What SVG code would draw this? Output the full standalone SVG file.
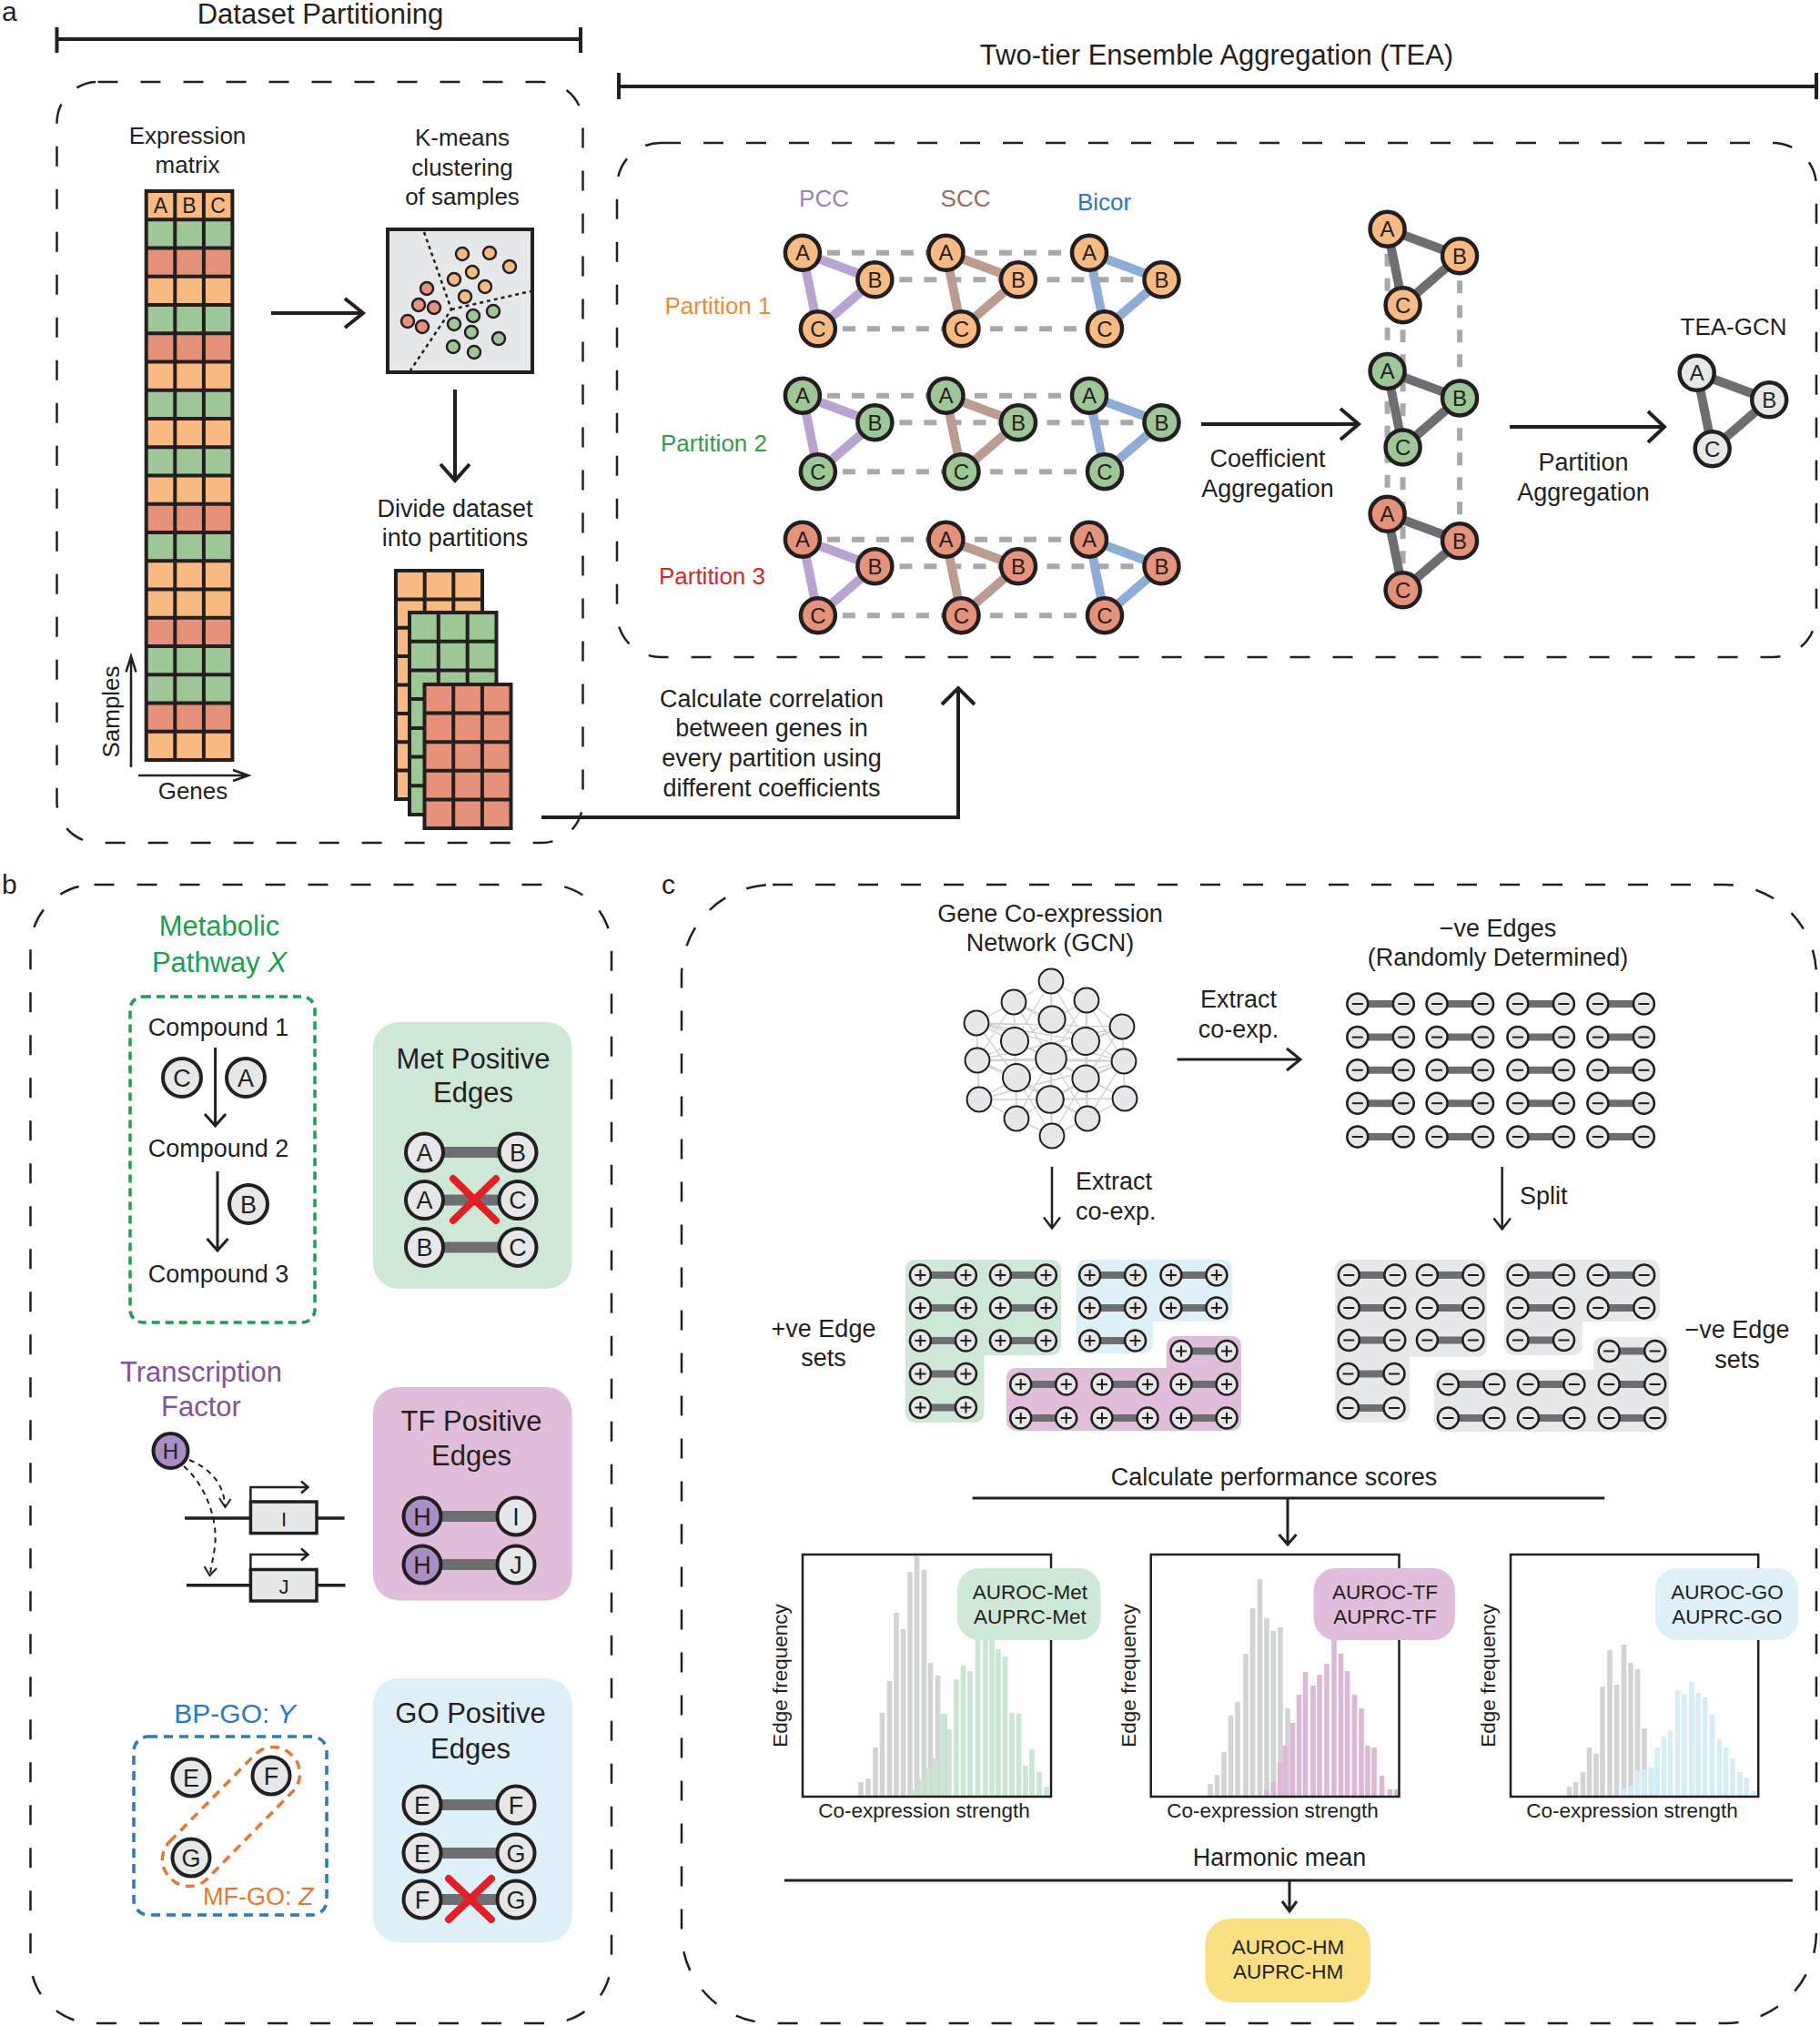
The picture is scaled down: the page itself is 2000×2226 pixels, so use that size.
<svg xmlns="http://www.w3.org/2000/svg" width="2000" height="2226" viewBox="0 0 2000 2226">
<style>
text{font-family:"Liberation Sans",Arial,Helvetica,sans-serif;fill:#231F20}
.m{text-anchor:middle}
.f27{font-size:27px}
.f26{font-size:26px}
.f31{font-size:31px}
.dbox{fill:none;stroke:#231F20;stroke-width:2.5;stroke-dasharray:22 25}
.ar{fill:none;stroke:#231F20;stroke-width:4}
.ar3{fill:none;stroke:#231F20;stroke-width:2.5}
.grid{fill:none;stroke:#231F20;stroke-width:4}
.kd{stroke:#231F20;stroke-width:2.5}
.nl{font-size:24px;text-anchor:middle}
.ln{fill:#E6E7E8;stroke:#231F20;stroke-width:4}
.lt{font-size:27px;text-anchor:middle}
.ed{stroke:#6D6E71;stroke-width:12}
.xr{stroke:#E31E24;stroke-width:8;stroke-linecap:round}
.sn{fill:#E6E7E8;stroke:#231F20;stroke-width:2.5}
.gdash{fill:none;stroke:#A7A9AC;stroke-width:6;stroke-dasharray:14 13}
.cht{fill:none;stroke:#231F20;stroke-width:2.5}
.lab{font-size:22.5px;text-anchor:middle}
.bar{fill:none;stroke-width:5.6}
.gc{fill:#E6E7E8;stroke:#231F20;stroke-width:2}
</style>
<defs>
<g id="triE"><path d="M0 0L79.5 29.5L17 83.5Z" fill="none" stroke-width="10" stroke-linejoin="round"/></g>
<g id="triN">
<circle cx="0" cy="0" r="19" stroke="#231F20" stroke-width="4.5"/>
<circle cx="79.5" cy="29.5" r="19" stroke="#231F20" stroke-width="4.5"/>
<circle cx="17" cy="83.5" r="19" stroke="#231F20" stroke-width="4.5"/>
<text x="0" y="8.5" class="nl">A</text>
<text x="79.5" y="38" class="nl">B</text>
<text x="17" y="92" class="nl">C</text>
</g>
<g id="pn"><circle r="11.5" class="sn"/><path d="M-6 0H6M0-6V6" stroke="#231F20" stroke-width="2"/></g>
<g id="mn"><circle r="11.5" class="sn"/><path d="M-6 0H6" stroke="#231F20" stroke-width="2"/></g>
<g id="pp"><path d="M0 0H50" stroke="#6D6E71" stroke-width="8"/><use href="#pn"/><use href="#pn" x="50"/></g>
<g id="mp"><path d="M0 0H50.5" stroke="#6D6E71" stroke-width="8"/><use href="#mn"/><use href="#mn" x="50.5"/></g>
</defs>
<rect width="2000" height="2226" fill="#FFFFFF"/>

<!-- ================= Panel a ================= -->
<g id="panel-a">
<text x="2" y="23" font-size="30">a</text>
<text x="352" y="26" class="m f31">Dataset Partitioning</text>
<path d="M62.5 43H638M62.5 30V58M638 30V58" class="ar"/>
<text x="1337" y="71" class="m f31">Two-tier Ensemble Aggregation (TEA)</text>
<path d="M680 95H1996M680 80V109M1996 80V109" class="ar"/>
<rect x="62.5" y="90" width="578" height="836" rx="45" class="dbox"/>

<g id="expression-matrix">
<text x="206" y="158" class="m f26">Expression</text>
<text x="206" y="190" class="m f26">matrix</text>
<g stroke="none">
<rect x="160.7" y="210" width="94.7" height="31.25" fill="#F8BA80"/>
<rect x="160.7" y="241.25" width="94.7" height="31.25" fill="#9DC796"/>
<rect x="160.7" y="272.5" width="94.7" height="31.25" fill="#E6917A"/>
<rect x="160.7" y="303.75" width="94.7" height="31.25" fill="#F8BA80"/>
<rect x="160.7" y="335" width="94.7" height="31.25" fill="#9DC796"/>
<rect x="160.7" y="366.25" width="94.7" height="31.25" fill="#E6917A"/>
<rect x="160.7" y="397.5" width="94.7" height="31.25" fill="#F8BA80"/>
<rect x="160.7" y="428.75" width="94.7" height="31.25" fill="#9DC796"/>
<rect x="160.7" y="460" width="94.7" height="31.25" fill="#F8BA80"/>
<rect x="160.7" y="491.25" width="94.7" height="31.25" fill="#9DC796"/>
<rect x="160.7" y="522.5" width="94.7" height="31.25" fill="#F8BA80"/>
<rect x="160.7" y="553.75" width="94.7" height="31.25" fill="#E6917A"/>
<rect x="160.7" y="585" width="94.7" height="31.25" fill="#9DC796"/>
<rect x="160.7" y="616.25" width="94.7" height="31.25" fill="#F8BA80"/>
<rect x="160.7" y="647.5" width="94.7" height="31.25" fill="#F8BA80"/>
<rect x="160.7" y="678.75" width="94.7" height="31.25" fill="#E6917A"/>
<rect x="160.7" y="710" width="94.7" height="31.25" fill="#9DC796"/>
<rect x="160.7" y="741.25" width="94.7" height="31.25" fill="#9DC796"/>
<rect x="160.7" y="772.5" width="94.7" height="31.25" fill="#E6917A"/>
<rect x="160.7" y="803.75" width="94.7" height="31.25" fill="#F8BA80"/>
</g>
<path class="grid" d="M160.7 210H255.4V835H160.7ZM192.3 210V835M223.9 210V835M160.7 241.25H255.4M160.7 272.5H255.4M160.7 303.75H255.4M160.7 335H255.4M160.7 366.25H255.4M160.7 397.5H255.4M160.7 428.75H255.4M160.7 460H255.4M160.7 491.25H255.4M160.7 522.5H255.4M160.7 553.75H255.4M160.7 585H255.4M160.7 616.25H255.4M160.7 647.5H255.4M160.7 678.75H255.4M160.7 710H255.4M160.7 741.25H255.4M160.7 772.5H255.4M160.7 803.75H255.4"/>
<text x="176.5" y="234" class="m" font-size="23">A</text>
<text x="208" y="234" class="m" font-size="23">B</text>
<text x="239.6" y="234" class="m" font-size="23">C</text>
<path d="M144 843V721M138.5 738.5L144 721L149.5 738.5" class="ar3"/>
<text transform="translate(131,782) rotate(-90)" class="m f26">Samples</text>
<path d="M152 852H273M256 846L273 852L256 858" class="ar3"/>
<text x="212" y="878" class="m f26">Genes</text>
</g>

<g id="kmeans">
<text x="508" y="160" class="m f26">K-means</text>
<text x="508" y="193" class="m f26">clustering</text>
<text x="508" y="225" class="m f26">of samples</text>
<rect x="426" y="252" width="159" height="157" fill="#E6E7E8" stroke="#231F20" stroke-width="4"/>
<path d="M466 255L496 340L451 407M496 340L583 320" fill="none" stroke="#231F20" stroke-width="2.5" stroke-dasharray="4 4"/>
<g class="kd" fill="#F8BA80">
<circle cx="508" cy="279" r="7"/><circle cx="538" cy="278" r="7"/><circle cx="560" cy="293" r="7"/><circle cx="519" cy="299" r="7"/><circle cx="499" cy="307" r="7"/><circle cx="533" cy="315" r="7"/><circle cx="511" cy="326" r="7"/>
</g>
<g class="kd" fill="#E6917A">
<circle cx="469" cy="317" r="7"/><circle cx="460" cy="335" r="7"/><circle cx="477" cy="338" r="7"/><circle cx="448" cy="353" r="7"/><circle cx="464" cy="359" r="7"/>
</g>
<g class="kd" fill="#9DC796">
<circle cx="520" cy="347" r="7"/><circle cx="542" cy="342" r="7"/><circle cx="499" cy="356" r="7"/><circle cx="518" cy="365" r="7"/><circle cx="548" cy="372" r="7"/><circle cx="498" cy="381" r="7"/><circle cx="521" cy="387" r="7"/>
</g>
</g>

<g id="partitions">
<text x="500" y="568" class="m f27">Divide dataset</text>
<text x="500" y="600" class="m f27">into partitions</text>
<rect x="435" y="627" width="95" height="251" fill="#F8BA80"/>
<path class="grid" d="M435 627H530V878H435ZM466.7 627V878M498.3 627V878M435 658.4H530M435 689.75H530M435 721.1H530M435 752.5H530M435 783.9H530M435 815.25H530M435 846.6H530"/>
<rect x="450" y="673" width="95.5" height="222" fill="#9DC796"/>
<path class="grid" d="M450 673H545.5V895H450ZM481.8 673V895M513.7 673V895M450 704.7H545.5M450 736.4H545.5M450 768.1H545.5M450 799.9H545.5M450 831.6H545.5M450 863.3H545.5"/>
<rect x="466.5" y="752" width="95" height="158" fill="#E6917A"/>
<path class="grid" d="M466.5 752H561.5V910H466.5ZM498.2 752V910M529.9 752V910M466.5 783.6H561.5M466.5 815.2H561.5M466.5 846.8H561.5M466.5 878.4H561.5"/>
</g>
</g>

<!-- ================= TEA ================= -->
<g id="tea">
<rect x="678" y="157" width="1318" height="565" rx="48" class="dbox"/>
<text x="905.5" y="227" class="m f26" style="fill:#9D7FC1">PCC</text>
<text x="1061" y="227" class="m f26" style="fill:#A0695A">SCC</text>
<text x="1213.5" y="231" class="m f26" style="fill:#2878BD">Bicor</text>
<text x="847.5" y="345" text-anchor="end" class="f26" style="fill:#F08A2E">Partition 1</text>
<text x="843" y="496" text-anchor="end" class="f26" style="fill:#2EA04A">Partition 2</text>
<text x="841" y="642" text-anchor="end" class="f26" style="fill:#D62728">Partition 3</text>

<g id="tea-dashes">
<path class="gdash" d="M882 277.8H1197M961.4 307.3H1276.5M898.9 361.3H1214M882 434.7H1197M961.4 464.2H1276.5M898.9 518.2H1214M882 592.7H1197M961.4 622.2H1276.5M898.9 676.2H1214"/>
<path class="gdash" d="M1524.6 251.7V564.8M1541.6 335.2V648.3M1604.1 281.2V594.3"/>
</g>

<g id="p1-pcc" transform="translate(881.9,277.8)"><use href="#triE" stroke="#B9A3D3"/><use href="#triN" fill="#F8BA80"/></g>
<g id="p1-scc" transform="translate(1039.5,277.8)"><use href="#triE" stroke="#BC9C90"/><use href="#triN" fill="#F8BA80"/></g>
<g id="p1-bicor" transform="translate(1197,277.8)"><use href="#triE" stroke="#8EADD6"/><use href="#triN" fill="#F8BA80"/></g>
<g id="p2-pcc" transform="translate(881.9,434.7)"><use href="#triE" stroke="#B9A3D3"/><use href="#triN" fill="#9DC796"/></g>
<g id="p2-scc" transform="translate(1039.5,434.7)"><use href="#triE" stroke="#BC9C90"/><use href="#triN" fill="#9DC796"/></g>
<g id="p2-bicor" transform="translate(1197,434.7)"><use href="#triE" stroke="#8EADD6"/><use href="#triN" fill="#9DC796"/></g>
<g id="p3-pcc" transform="translate(881.9,592.7)"><use href="#triE" stroke="#B9A3D3"/><use href="#triN" fill="#E6917A"/></g>
<g id="p3-scc" transform="translate(1039.5,592.7)"><use href="#triE" stroke="#BC9C90"/><use href="#triN" fill="#E6917A"/></g>
<g id="p3-bicor" transform="translate(1197,592.7)"><use href="#triE" stroke="#8EADD6"/><use href="#triN" fill="#E6917A"/></g>

<g id="agg-1" transform="translate(1524.6,251.7)"><use href="#triE" stroke="#6D6E71"/><use href="#triN" fill="#F8BA80"/></g>
<g id="agg-2" transform="translate(1524.6,407.9)"><use href="#triE" stroke="#6D6E71"/><use href="#triN" fill="#9DC796"/></g>
<g id="agg-3" transform="translate(1524.6,564.8)"><use href="#triE" stroke="#6D6E71"/><use href="#triN" fill="#E6917A"/></g>

<text x="1905" y="368" class="m f26">TEA-GCN</text>
<g id="tea-gcn" transform="translate(1864.7,409.8)"><use href="#triE" stroke="#6D6E71"/><use href="#triN" fill="#E6E7E8"/></g>

<text x="1393" y="513" class="m f27">Coefficient</text>
<text x="1393" y="546" class="m f27">Aggregation</text>
<text x="1740" y="517" class="m f27">Partition</text>
<text x="1740" y="550" class="m f27">Aggregation</text>
</g>

<g id="connectors-a">
<path d="M298 344H398M379 328L399 344L379 360" class="ar"/>
<path d="M500 428V527M484 510L500 528L516 510" class="ar"/>
<path d="M595 898H1053V757M1035 774L1053 756L1071 774" class="ar"/>
<path d="M1320 466H1492M1473 449L1493 466L1473 483" class="ar"/>
<path d="M1659 469H1828M1811 452L1829 469L1811 486" class="ar"/>
</g>
<g id="calc-label">
<text x="848" y="777" class="m f27">Calculate correlation</text>
<text x="848" y="809" class="m f27">between genes in</text>
<text x="848" y="842" class="m f27">every partition using</text>
<text x="848" y="875" class="m f27">different coefficients</text>
</g>

<!-- ================= Panel b ================= -->
<g id="panel-b">
<text x="2" y="982" font-size="30">b</text>
<rect x="33.5" y="972" width="638.5" height="1251" rx="70" class="dbox"/>

<g id="metabolic">
<text x="241" y="1028" class="m f31" style="fill:#1BA04B">Metabolic</text>
<text x="241" y="1068" class="m f31" style="fill:#1BA04B">Pathway <tspan font-style="italic" style="fill:#1BA04B">X</tspan></text>
<rect x="143" y="1095" width="203" height="358" rx="14" fill="none" stroke="#1BA04B" stroke-width="3.5" stroke-dasharray="9 6"/>
<text x="240" y="1138" class="m f27">Compound 1</text>
<text x="240" y="1271" class="m f27">Compound 2</text>
<text x="240" y="1409" class="m f27">Compound 3</text>
<path d="M236.6 1151V1236M225 1224L236.6 1237L248 1224" class="ar3" style="stroke-width:3"/>
<path d="M239 1287V1373M227.5 1361L239 1374L250.5 1361" class="ar3" style="stroke-width:3"/>
<circle cx="200" cy="1184" r="21" class="ln"/><text x="200" y="1193.5" class="lt">C</text>
<circle cx="270" cy="1184" r="21" class="ln"/><text x="270" y="1193.5" class="lt">A</text>
<circle cx="273" cy="1323" r="21" class="ln"/><text x="273" y="1332.5" class="lt">B</text>
</g>

<g id="met-positive">
<rect x="410" y="1123" width="218.6" height="293" rx="28" fill="#CDE8D7"/>
<text x="520" y="1173.5" class="m f31">Met Positive</text>
<text x="520" y="1211" class="m f31">Edges</text>
<path d="M466.5 1266H569M466.5 1318.6H569M466.5 1370.4H569" class="ed"/>
<circle cx="466.5" cy="1266" r="20.5" class="ln"/><text x="466.5" y="1275.5" class="lt">A</text>
<circle cx="569" cy="1266" r="20.5" class="ln"/><text x="569" y="1275.5" class="lt">B</text>
<circle cx="466.5" cy="1318.6" r="20.5" class="ln"/><text x="466.5" y="1328" class="lt">A</text>
<circle cx="569" cy="1318.6" r="20.5" class="ln"/><text x="569" y="1328" class="lt">C</text>
<circle cx="466.5" cy="1370.4" r="20.5" class="ln"/><text x="466.5" y="1380" class="lt">B</text>
<circle cx="569" cy="1370.4" r="20.5" class="ln"/><text x="569" y="1380" class="lt">C</text>
<path d="M498 1295L545 1341M545 1295L498 1341" class="xr"/>
</g>

<g id="transcription">
<text x="221" y="1517.6" class="m f31" style="fill:#8450A0">Transcription</text>
<text x="221" y="1556" class="m f31" style="fill:#8450A0">Factor</text>
<path d="M208 1604C228 1612 246 1628 247 1654" fill="none" stroke="#231F20" stroke-width="2" stroke-dasharray="6 5"/>
<path d="M241 1646L247.5 1656L253.5 1647" fill="none" stroke="#231F20" stroke-width="2"/>
<path d="M202 1611C226 1632 240 1670 236 1700C234 1714 232 1721 231 1729" fill="none" stroke="#231F20" stroke-width="2" stroke-dasharray="6 5"/>
<path d="M224.5 1721L230.5 1731L238 1723" fill="none" stroke="#231F20" stroke-width="2"/>
<circle cx="187.5" cy="1594" r="19" fill="#A98DC6" stroke="#231F20" stroke-width="4"/><text x="187.5" y="1603" class="nl">H</text>
<path d="M203 1668H378.6M205 1741.7H379.5" stroke="#231F20" stroke-width="3.5"/>
<rect x="275.4" y="1650" width="72.6" height="34.6" fill="#E6E7E8" stroke="#231F20" stroke-width="3.5"/>
<rect x="275.4" y="1724.5" width="72.6" height="34.5" fill="#E6E7E8" stroke="#231F20" stroke-width="3.5"/>
<text x="312" y="1677" class="m" font-size="22">I</text>
<text x="312" y="1751" class="m" font-size="22">J</text>
<path d="M275.4 1650V1634H338M331 1627.5L338.5 1634L331 1640.5M275.4 1724.5V1708H338M331 1701.5L338.5 1708L331 1714.5" fill="none" stroke="#231F20" stroke-width="2.5"/>
</g>

<g id="tf-positive">
<rect x="410" y="1524" width="218.6" height="234.5" rx="28" fill="#E0BEDB"/>
<text x="518" y="1571.5" class="m f31">TF Positive</text>
<text x="518" y="1610" class="m f31">Edges</text>
<path d="M464 1666H567M464 1719H567" class="ed"/>
<circle cx="464" cy="1666" r="20.5" fill="#A98DC6" stroke="#231F20" stroke-width="4"/><text x="464" y="1675.5" class="lt">H</text>
<circle cx="567" cy="1666" r="20.5" class="ln"/><text x="567" y="1675.5" class="lt">I</text>
<circle cx="464" cy="1719" r="20.5" fill="#A98DC6" stroke="#231F20" stroke-width="4"/><text x="464" y="1728.5" class="lt">H</text>
<circle cx="567" cy="1719" r="20.5" class="ln"/><text x="567" y="1728.5" class="lt">J</text>
</g>

<g id="go">
<text x="258" y="1893" class="m" font-size="30" style="fill:#2B79BF">BP-GO: <tspan font-style="italic" style="fill:#2B79BF">Y</tspan></text>
<rect x="147" y="1908" width="212" height="196" rx="16" fill="none" stroke="#2B79BF" stroke-width="3.5" stroke-dasharray="10 7"/>
<rect x="-95" y="-29" width="190" height="58" rx="28" transform="translate(254,1996) rotate(-45.6)" fill="none" stroke="#E8772E" stroke-width="3.5" stroke-dasharray="10 7"/>
<circle cx="210" cy="1953" r="20.5" class="ln"/><text x="210" y="1962.5" class="lt">E</text>
<circle cx="298" cy="1951" r="20.5" class="ln"/><text x="298" y="1960.5" class="lt">F</text>
<circle cx="210" cy="2041" r="20.5" class="ln"/><text x="210" y="2050.5" class="lt">G</text>
<text x="223" y="2093" font-size="27" style="fill:#E8772E">MF-GO: <tspan font-style="italic" style="fill:#E8772E">Z</tspan></text>
</g>

<g id="go-positive">
<rect x="410" y="1844" width="218.6" height="290" rx="28" fill="#DDF0F8"/>
<text x="517" y="1893" class="m f31">GO Positive</text>
<text x="517" y="1932" class="m f31">Edges</text>
<path d="M464 1983H567M464 2036H567M464 2087H567" class="ed"/>
<circle cx="464" cy="1983" r="20.5" class="ln"/><text x="464" y="1992.5" class="lt">E</text>
<circle cx="567" cy="1983" r="20.5" class="ln"/><text x="567" y="1992.5" class="lt">F</text>
<circle cx="464" cy="2036" r="20.5" class="ln"/><text x="464" y="2045.5" class="lt">E</text>
<circle cx="567" cy="2036" r="20.5" class="ln"/><text x="567" y="2045.5" class="lt">G</text>
<circle cx="464" cy="2087" r="20.5" class="ln"/><text x="464" y="2096.5" class="lt">F</text>
<circle cx="567" cy="2087" r="20.5" class="ln"/><text x="567" y="2096.5" class="lt">G</text>
<path d="M493 2064L540 2109M540 2064L493 2109" class="xr"/>
</g>
</g>

<!-- ================= Panel c ================= -->
<g id="panel-c">
<text x="727" y="982" font-size="30">c</text>
<rect x="749" y="972" width="1247" height="1251" rx="100" class="dbox"/>

<g id="gcn">
<text x="1154" y="1013" class="m f27">Gene Co-expression</text>
<text x="1154" y="1045" class="m f27">Network (GCN)</text>
<path fill="none" stroke="#D2D2D2" stroke-width="1.4" d="M1155 1078L1194 1099L1233 1128L1235 1166L1236 1207L1195 1229L1156 1248L1117 1229L1076 1208L1074 1165L1073 1124L1114 1101ZM1155 1078L1156 1120M1155 1078L1115 1144M1155 1078L1193 1144M1155 1078L1155 1163M1114 1101L1156 1120M1114 1101L1115 1144M1114 1101L1193 1144M1114 1101L1155 1163M1114 1101L1117 1184M1194 1099L1156 1120M1194 1099L1115 1144M1194 1099L1193 1144M1194 1099L1155 1163M1194 1099L1193 1185M1073 1124L1115 1144M1073 1124L1155 1163M1073 1124L1117 1184M1073 1124L1193 1144M1073 1124L1076 1208M1073 1124L1233 1128M1233 1128L1193 1144M1233 1128L1155 1163M1233 1128L1193 1185M1233 1128L1236 1207M1074 1165L1115 1144M1074 1165L1117 1184M1074 1165L1155 1163M1074 1165L1235 1166M1074 1165L1154 1208M1235 1166L1193 1144M1235 1166L1193 1185M1235 1166L1155 1163M1235 1166L1154 1208M1076 1208L1117 1184M1076 1208L1154 1208M1076 1208L1155 1163M1076 1208L1236 1207M1236 1207L1193 1185M1236 1207L1154 1208M1236 1207L1155 1163M1117 1229L1117 1184M1117 1229L1154 1208M1117 1229L1193 1185M1117 1229L1155 1163M1195 1229L1193 1185M1195 1229L1154 1208M1195 1229L1117 1184M1195 1229L1155 1163M1156 1248L1154 1208M1156 1248L1117 1184M1156 1248L1193 1185M1156 1248L1155 1163M1156 1120L1115 1144M1156 1120L1193 1144M1156 1120L1155 1163M1115 1144L1117 1184M1193 1144L1193 1185M1117 1184L1154 1208M1193 1185L1154 1208M1115 1144L1155 1163M1193 1144L1155 1163M1117 1184L1155 1163M1193 1185L1155 1163M1154 1208L1155 1163M1114 1101L1074 1165M1194 1099L1235 1166M1195 1229L1235 1166M1155 1078L1156 1248M1073 1124L1235 1166M1074 1165L1233 1128M1076 1208L1235 1166M1114 1101L1117 1229M1194 1099L1195 1229M1115 1144L1193 1185M1193 1144L1117 1184"/>
<circle cx="1155" cy="1078" r="13.4" class="gc"/>
<circle cx="1114" cy="1101" r="13.4" class="gc"/>
<circle cx="1194" cy="1099" r="13.4" class="gc"/>
<circle cx="1073" cy="1124" r="13.4" class="gc"/>
<circle cx="1156" cy="1120" r="14.6" class="gc"/>
<circle cx="1233" cy="1128" r="13.4" class="gc"/>
<circle cx="1115" cy="1144" r="15" class="gc"/>
<circle cx="1193" cy="1144" r="15" class="gc"/>
<circle cx="1074" cy="1165" r="13.4" class="gc"/>
<circle cx="1155" cy="1163" r="16.8" class="gc"/>
<circle cx="1235" cy="1166" r="13.4" class="gc"/>
<circle cx="1117" cy="1184" r="15" class="gc"/>
<circle cx="1193" cy="1185" r="14.6" class="gc"/>
<circle cx="1076" cy="1208" r="13.4" class="gc"/>
<circle cx="1154" cy="1208" r="14.8" class="gc"/>
<circle cx="1236" cy="1207" r="13.4" class="gc"/>
<circle cx="1117" cy="1229" r="13.4" class="gc"/>
<circle cx="1195" cy="1229" r="13.4" class="gc"/>
<circle cx="1156" cy="1248" r="13.4" class="gc"/>
</g>

<g id="neg-edges">
<text x="1646" y="1029" class="m f27">−ve Edges</text>
<text x="1646" y="1061" class="m f27">(Randomly Determined)</text>
<use href="#mp" x="1491.8" y="1103"/><use href="#mp" x="1579.1" y="1103"/><use href="#mp" x="1667.9" y="1103"/><use href="#mp" x="1755.9" y="1103"/>
<use href="#mp" x="1491.8" y="1139.6"/><use href="#mp" x="1579.1" y="1139.6"/><use href="#mp" x="1667.9" y="1139.6"/><use href="#mp" x="1755.9" y="1139.6"/>
<use href="#mp" x="1491.8" y="1175.8"/><use href="#mp" x="1579.1" y="1175.8"/><use href="#mp" x="1667.9" y="1175.8"/><use href="#mp" x="1755.9" y="1175.8"/>
<use href="#mp" x="1491.8" y="1212.2"/><use href="#mp" x="1579.1" y="1212.2"/><use href="#mp" x="1667.9" y="1212.2"/><use href="#mp" x="1755.9" y="1212.2"/>
<use href="#mp" x="1491.8" y="1249"/><use href="#mp" x="1579.1" y="1249"/><use href="#mp" x="1667.9" y="1249"/><use href="#mp" x="1755.9" y="1249"/>
</g>

<g id="pos-sets">
<text x="905" y="1469" class="m f27">+ve Edge</text>
<text x="905" y="1501" class="m f27">sets</text>
<path d="M1005 1394H1156V1479H1071.5V1553H1005Z" fill="#CDE8D7" stroke="#CDE8D7" stroke-width="20" stroke-linejoin="round"/>
<path d="M1193 1394H1344V1442H1257V1477H1193Z" fill="#DDF0F8" stroke="#DDF0F8" stroke-width="20" stroke-linejoin="round"/>
<path d="M1292 1478H1354V1562H1116V1513H1292Z" fill="#E0BEDB" stroke="#E0BEDB" stroke-width="20" stroke-linejoin="round"/>
<use href="#pp" x="1011.4" y="1401"/><use href="#pp" x="1099.4" y="1401"/>
<use href="#pp" x="1011.4" y="1437"/><use href="#pp" x="1099.4" y="1437"/>
<use href="#pp" x="1011.4" y="1473"/><use href="#pp" x="1099.4" y="1473"/>
<use href="#pp" x="1011.4" y="1509.5"/><use href="#pp" x="1011.4" y="1546.5"/>
<use href="#pp" x="1197.6" y="1401"/><use href="#pp" x="1286.9" y="1401"/>
<use href="#pp" x="1197.6" y="1437"/><use href="#pp" x="1286.9" y="1437"/>
<use href="#pp" x="1197.6" y="1473"/>
<use href="#pp" x="1298" y="1484.5"/>
<use href="#pp" x="1121.7" y="1521"/><use href="#pp" x="1211" y="1521"/><use href="#pp" x="1298" y="1521"/>
<use href="#pp" x="1121.7" y="1558"/><use href="#pp" x="1211" y="1558"/><use href="#pp" x="1298" y="1558"/>
</g>

<g id="neg-sets">
<text x="1909" y="1470" class="m f27">−ve Edge</text>
<text x="1909" y="1503" class="m f27">sets</text>
<path d="M1477 1394H1624V1481H1539V1553H1477Z" fill="#E6E7E8" stroke="#E6E7E8" stroke-width="20" stroke-linejoin="round"/>
<path d="M1663 1394H1814V1442H1729V1479H1663Z" fill="#E6E7E8" stroke="#E6E7E8" stroke-width="20" stroke-linejoin="round"/>
<path d="M1761 1479H1824V1563H1586V1515H1761Z" fill="#E6E7E8" stroke="#E6E7E8" stroke-width="20" stroke-linejoin="round"/>
<use href="#mp" x="1482.3" y="1401"/><use href="#mp" x="1568.4" y="1401"/>
<use href="#mp" x="1482.3" y="1437"/><use href="#mp" x="1568.4" y="1437"/>
<use href="#mp" x="1482.3" y="1472.5"/><use href="#mp" x="1568.4" y="1472.5"/>
<use href="#mp" x="1481.5" y="1509.5"/><use href="#mp" x="1481.5" y="1547"/>
<use href="#mp" x="1668" y="1401"/><use href="#mp" x="1756.2" y="1401"/>
<use href="#mp" x="1668" y="1437"/><use href="#mp" x="1756.2" y="1437"/>
<use href="#mp" x="1668" y="1472.5"/>
<use href="#mp" x="1768.2" y="1484.5"/>
<use href="#mp" x="1591.4" y="1521"/><use href="#mp" x="1679.4" y="1521"/><use href="#mp" x="1768.2" y="1521"/>
<use href="#mp" x="1591.4" y="1558"/><use href="#mp" x="1679.4" y="1558"/><use href="#mp" x="1768.2" y="1558"/>
</g>

<g id="charts">
<path class="bar" stroke="#D1D3D4" d="M946 1973V1958M954 1973V1954M962 1973V1920M969.5 1973V1882M977.5 1973V1847M985 1973V1772M992.5 1973V1790M1000 1973V1727M1007.5 1973V1710M1015.5 1973V1725M1022.5 1973V1827M1030.5 1973V1841M1038 1973V1883"/>
<path class="bar" stroke="#C8E6D0" d="M1005 1973V1967M1012.5 1973V1955M1020.5 1973V1943M1028 1973V1932M1036 1973V1883M1043 1973V1900M1051 1973V1845M1058.5 1973V1830M1066 1973V1836M1074.5 1973V1795M1083 1973V1790M1090 1973V1800M1097 1973V1812M1104.5 1973V1820M1112 1973V1882M1119.5 1973V1883M1127 1973V1940M1134 1973V1922M1142 1973V1947M1150 1973V1963"/>
<rect x="882" y="1708" width="273" height="266" class="cht"/>
<rect x="1052" y="1723" width="157.4" height="79" rx="24" fill="#CDE8D7"/>
<text x="1131.8" y="1757" class="lab">AUROC-Met</text>
<text x="1131.8" y="1783.5" class="lab">AUPRC-Met</text>
<text transform="translate(865,1841) rotate(-90)" class="lab">Edge frequency</text>
<text x="1015.5" y="1997" class="lab">Co-expression strength</text>

<path class="bar" stroke="#D1D3D4" d="M1330 1973V1960M1337.5 1973V1950M1345 1973V1925M1352.5 1973V1885M1360 1973V1870M1369 1973V1817M1376.5 1973V1767M1384.5 1973V1735M1392 1973V1778M1399.5 1973V1792M1407 1973V1788M1415 1973V1877"/>
<path class="bar" stroke="#DDB7D6" d="M1392 1973V1967M1399.5 1973V1958M1407 1973V1937M1412.5 1973V1918M1420.5 1973V1893M1427.5 1973V1862M1434.5 1973V1837M1443 1973V1852M1450 1973V1840M1458 1973V1828M1466 1973V1800M1473.5 1973V1817M1480.5 1973V1836M1488.5 1973V1862M1496 1973V1877M1503 1973V1918M1510 1973V1920M1518.5 1973V1951M1527.5 1973V1966M1535 1973V1966"/>
<rect x="1264.7" y="1708" width="272.8" height="266" class="cht"/>
<rect x="1443.7" y="1723" width="155.1" height="79" rx="24" fill="#E0BEDB"/>
<text x="1522" y="1757" class="lab">AUROC-TF</text>
<text x="1522" y="1783.5" class="lab">AUPRC-TF</text>
<text transform="translate(1248,1841) rotate(-90)" class="lab">Edge frequency</text>
<text x="1398.5" y="1997" class="lab">Co-expression strength</text>

<path class="bar" stroke="#D1D3D4" d="M1724.5 1973V1963M1731.5 1973V1958M1739.5 1973V1947M1746.5 1973V1920M1754 1973V1927M1761 1973V1853M1769 1973V1813M1776.5 1973V1851M1784.5 1973V1807M1792 1973V1827M1799.5 1973V1834M1807 1973V1899M1814.5 1973V1942"/>
<path class="bar" stroke="#D3ECF5" d="M1784.5 1973V1965M1792 1973V1962M1799.5 1973V1945M1807 1973V1944M1814.5 1973V1942M1821 1973V1920M1828.5 1973V1908M1835.5 1973V1901M1843.5 1973V1857M1851 1973V1862M1859 1973V1848M1866 1973V1860M1873.5 1973V1865M1881.5 1973V1884M1889.5 1973V1911M1896.5 1973V1920M1904 1973V1932M1912 1973V1947M1919 1973V1953M1927 1973V1968"/>
<rect x="1660" y="1708" width="272.2" height="266" class="cht"/>
<rect x="1819" y="1723" width="157.3" height="79" rx="24" fill="#DDF0F8"/>
<text x="1898" y="1757" class="lab">AUROC-GO</text>
<text x="1898" y="1783.5" class="lab">AUPRC-GO</text>
<text transform="translate(1643,1841) rotate(-90)" class="lab">Edge frequency</text>
<text x="1793.5" y="1997" class="lab">Co-expression strength</text>
</g>

<g id="hm">
<text x="1400" y="1632" class="m f27">Calculate performance scores</text>
<text x="1406" y="2050" class="m f27">Harmonic mean</text>
<rect x="1324.4" y="2108" width="181.6" height="92" rx="28" fill="#F7DF82"/>
<text x="1415.5" y="2147" class="lab">AUROC-HM</text>
<text x="1415.5" y="2173.5" class="lab">AUPRC-HM</text>
</g>

<g id="connectors-c">
<text x="1361" y="1107" class="m f27">Extract</text>
<text x="1361" y="1140" class="m f27">co-exp.</text>
<path d="M1293.6 1164H1428M1414 1152L1429 1164L1414 1176" class="ar3" style="stroke-width:3"/>
<path d="M1156 1282V1348M1147 1337.5L1156 1349.5L1165 1337.5" class="ar3"/>
<text x="1182" y="1307" class="f27">Extract</text>
<text x="1182" y="1340" class="f27">co-exp.</text>
<path d="M1650.7 1282V1349M1641.5 1338.5L1650.7 1350.5L1660 1338.5" class="ar3"/>
<text x="1670" y="1323" class="f27">Split</text>
<path d="M1068.6 1646H1763.3M1415 1646V1695M1405.5 1686L1415 1697L1424.5 1686" class="ar3" style="stroke-width:3"/>
<path d="M862 2066H1970M1417 2066V2098M1409 2089L1417 2100L1425 2089" class="ar3" style="stroke-width:3"/>
</g>
</g>
</svg>
